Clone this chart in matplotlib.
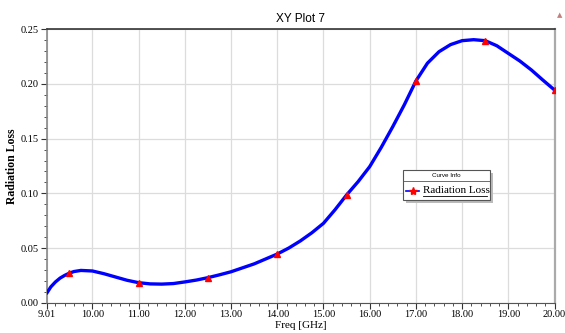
import matplotlib.pyplot as plt
from matplotlib.patches import Rectangle
from matplotlib.lines import Line2D
from matplotlib.ticker import MultipleLocator, FixedLocator

# Valores (Freq em GHz, Radiation Loss)
freq = [9.01, 9.1, 9.2, 9.3, 9.4, 9.5, 9.6, 9.75, 10.0, 10.25, 10.5, 10.75, 11.0,
        11.25, 11.5, 11.75, 12.0, 12.25, 12.5, 12.75, 13.0, 13.5, 14.0, 14.25,
        14.5, 14.75, 15.0, 15.25, 15.5, 15.75, 16.0, 16.25, 16.5, 16.75, 17.0,
        17.25, 17.5, 17.75, 18.0, 18.25, 18.5, 18.75, 19.0, 19.25, 19.5, 19.75,
        20.0]
loss = [0.0086, 0.0145, 0.0190, 0.0225, 0.0250, 0.0270, 0.0285, 0.0295, 0.0290,
        0.0265, 0.0235, 0.0205, 0.0183, 0.0172, 0.0170, 0.0175, 0.0190, 0.0207,
        0.0229, 0.0255, 0.0283, 0.0355, 0.0445, 0.0500, 0.0565, 0.0640, 0.0726,
        0.0850, 0.0985, 0.1107, 0.1244, 0.1420, 0.1610, 0.1810, 0.2027, 0.2190,
        0.2295, 0.2360, 0.2396, 0.2405, 0.2396, 0.2350, 0.2280, 0.2210, 0.2128,
        0.2035, 0.1945]
marker_freqs = [9.5, 11.0, 12.5, 14.0, 15.5, 17.0, 18.5, 20.0]

x_ticks = [9.01, 10, 11, 12, 13, 14, 15, 16, 17, 18, 19, 20]
x_labels = ['9.01', '10.00', '11.00', '12.00', '13.00', '14.00', '15.00',
            '16.00', '17.00', '18.00', '19.00', '20.00']
y_ticks = [0.0, 0.05, 0.10, 0.15, 0.20, 0.25]

serif = 'Liberation Serif'
sans = 'Liberation Sans'

fig = plt.figure(figsize=(5.65, 3.33), dpi=100)
ax = fig.add_axes([46.7 / 565, 1 - 302.7 / 333, (554.5 - 46.7) / 565, (302.7 - 29.3) / 333])

idx = [freq.index(f) for f in marker_freqs]
ax.plot(freq, loss, color='#0000ff', linewidth=2.4, solid_capstyle='round',
        solid_joinstyle='round', zorder=3)
ax.plot(marker_freqs, [loss[i] for i in idx], linestyle='none', marker='^',
        color='#ff0000', markersize=5, zorder=4)

ax.set_xlim(9.01, 20.0)
ax.set_ylim(0, 0.25)
ax.xaxis.set_major_locator(FixedLocator(x_ticks))
ax.set_xticklabels(x_labels, fontfamily=serif, fontsize=7.5)
ax.xaxis.set_minor_locator(MultipleLocator(0.2))
ax.yaxis.set_major_locator(FixedLocator(y_ticks))
ax.set_yticklabels(['%.2f' % v for v in y_ticks], fontfamily=serif, fontsize=7.5)
ax.yaxis.set_minor_locator(MultipleLocator(0.01))

ax.tick_params(which='major', direction='out', length=4, width=0.8, color='#333333', pad=1.5)
ax.tick_params(which='minor', direction='out', length=2.5, width=0.6, color='#333333')
ax.grid(True, which='major', color='#dcdcdc', linewidth=0.9)
ax.set_axisbelow(True)

ax.spines['top'].set_color('#333333')
ax.spines['top'].set_linewidth(1.2)
ax.spines['bottom'].set_color('#555555')
ax.spines['left'].set_color('#888888')
ax.spines['left'].set_linewidth(1.2)
ax.spines['right'].set_color('#aaaaaa')
ax.spines['right'].set_linewidth(1.6)

ax.set_title('XY Plot 7', fontfamily=sans, fontsize=8.5, pad=5)
ax.set_xlabel('Freq [GHz]', fontfamily=serif, fontsize=8, labelpad=1)
ax.set_ylabel('Radiation Loss', fontfamily=serif, fontsize=8.5, fontweight='bold', labelpad=2)

# Caixa "Curve Info" (legenda)
x0, x1 = 403 / 565, 490 / 565
yt, ym, yb = 1 - 170 / 333, 1 - 181 / 333, 1 - 200 / 333
fig.patches.append(Rectangle((x0 + 3 / 565, yb - 3 / 333), x1 - x0, yt - yb,
                             transform=fig.transFigure, facecolor='#bbbbbb',
                             edgecolor='none', zorder=5))
fig.patches.append(Rectangle((x0, yb), x1 - x0, yt - yb, transform=fig.transFigure,
                             facecolor='white', edgecolor='#555555', linewidth=0.8, zorder=6))
fig.lines.append(Line2D([x0, x1], [ym, ym], transform=fig.transFigure,
                        color='#555555', linewidth=0.6, zorder=7))
fig.text((x0 + x1) / 2, (yt + ym) / 2, 'Curve Info', fontfamily=sans, fontsize=4.5,
         ha='center', va='center', zorder=8)
fig.lines.append(Line2D([x0 + 3 / 565, x0 + 16 / 565], [(ym + yb) / 2] * 2,
                        transform=fig.transFigure, color='#0000ff', linewidth=1.2, zorder=8))
fig.lines.append(Line2D([x0 + 9.5 / 565], [(ym + yb) / 2], transform=fig.transFigure,
                        marker='*', color='#ff0000', markersize=6, linestyle='none', zorder=9))
fig.text(x0 + 20 / 565, (ym + yb) / 2, 'Radiation Loss', fontfamily=serif,
         fontsize=8, ha='left', va='center', zorder=8)
fig.lines.append(Line2D([x0 + 20 / 565, x0 + 84 / 565], [1 - 196 / 333] * 2,
                        transform=fig.transFigure, color='black', linewidth=0.6, zorder=8))

fig.text(560 / 565, 1 - 15 / 333, '\u25b2', color='#c08080', fontsize=5,
         ha='center', va='center', fontfamily='DejaVu Sans')

fig.savefig('out.png', dpi=100)
